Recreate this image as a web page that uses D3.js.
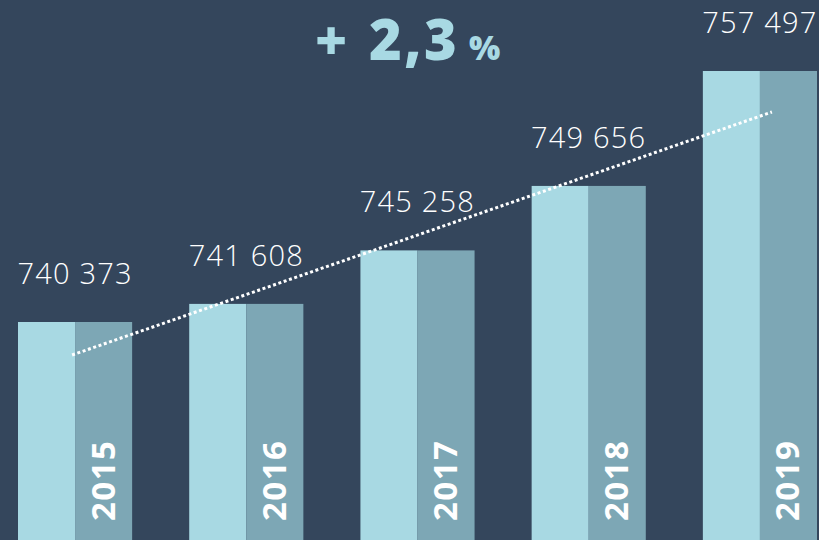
<!DOCTYPE html>
<html lang="en">
<head>
<meta charset="utf-8">
<title>Growth 2015-2019</title>
<script src="https://d3js.org/d3.v7.min.js"></script>
<style>
  body { margin: 0; background: #34465c; }
  svg { display: block; }
</style>
</head>
<body>
<script>
// data
var years = ["2015", "2016", "2017", "2018", "2019"];
var values = [740373, 741608, 745258, 749656, 757497];
var labels = ["740 373", "741 608", "745 258", "749 656", "757 497"];
var trendValues = [738120, 754700];   // start / end of dotted trend
var growth = ["+", "2,3", "%"];

var width = 819, height = 540;

var svg = d3.select("body").append("svg")
    .attr("width", width)
    .attr("height", height);

svg.append("rect")
    .attr("width", width)
    .attr("height", height)
    .attr("fill", "#34465c");

var x = d3.scaleBand()
    .domain(years)
    .range([18, 817])
    .paddingInner(57 / 171);

var y = d3.scaleLinear()
    .domain([725500, 757497])
    .range([540, 71]);

var bw = x.bandwidth();

var bar = svg.selectAll(".bar")
    .data(years)
    .enter().append("g")
    .attr("class", "bar");

// light left half
bar.append("rect")
    .attr("x", function(d) { return x(d); })
    .attr("y", function(d, i) { return y(values[i]); })
    .attr("width", bw / 2)
    .attr("height", function(d, i) { return height - y(values[i]); })
    .attr("fill", "#a8d9e3");

// darker right half
bar.append("rect")
    .attr("x", function(d) { return x(d) + bw / 2; })
    .attr("y", function(d, i) { return y(values[i]); })
    .attr("width", bw / 2)
    .attr("height", function(d, i) { return height - y(values[i]); })
    .attr("fill", "#7da7b5");

// value labels
bar.append("text")
    .attr("x", function(d) { return x(d) + bw / 2; })
    .attr("y", function(d, i) { return y(values[i]) - 38; })
    .attr("text-anchor", "middle")
    .attr("font-family", "Open Sans, sans-serif")
    .attr("font-weight", 300)
    .attr("font-size", 29)
    .attr("letter-spacing", 1.2)
    .attr("fill", "#ffffff")
    .text(function(d, i) { return labels[i]; });

// year labels, vertical in the dark half
bar.append("text")
    .attr("transform", function(d) {
        return "translate(" + (x(d) + bw * 0.75 + 11) + ",521) rotate(-90)";
    })
    .attr("font-family", "Open Sans, sans-serif")
    .attr("font-weight", 700)
    .attr("font-size", 33)
    .attr("letter-spacing", 1.5)
    .attr("fill", "#ffffff")
    .text(function(d) { return d; });

// dotted trend line
svg.append("line")
    .attr("x1", x(years[0]) + bw / 2 - 3)
    .attr("y1", y(trendValues[0]))
    .attr("x2", x(years[4]) + bw / 2 + 12)
    .attr("y2", y(trendValues[1]))
    .attr("stroke", "#ffffff")
    .attr("stroke-width", 3)
    .attr("stroke-dasharray", "3 2.6");

// growth headline
var title = svg.append("g")
    .attr("fill", "#a8d9e3")
    .attr("font-family", "Open Sans, sans-serif")
    .attr("font-weight", 800);

title.append("text")
    .attr("x", 315).attr("y", 60)
    .attr("font-size", 55)
    .text(growth[0]);

title.append("text")
    .attr("x", 369).attr("y", 60)
    .attr("font-size", 56)
    .attr("letter-spacing", 2.5)
    .text(growth[1]);

title.append("text")
    .attr("x", 469).attr("y", 60)
    .attr("font-size", 33)
    .text(growth[2]);
</script>
</body>
</html>
